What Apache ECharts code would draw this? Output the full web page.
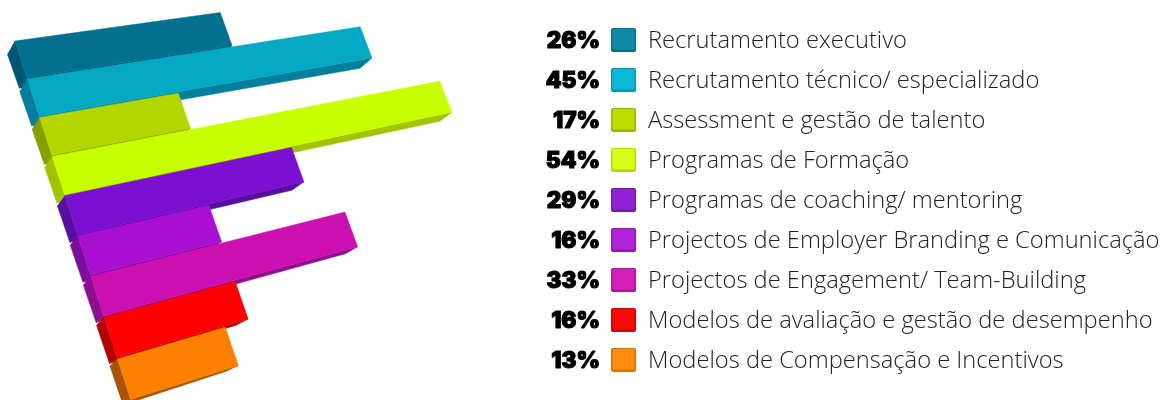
<!DOCTYPE html>
<html><head><meta charset="utf-8">
<style>html,body{margin:0;padding:0;background:#fff}#c{width:1163px;height:400px}</style>
<script src="https://cdn.jsdelivr.net/npm/echarts@6/dist/echarts.min.js"></script>
</head><body><div id="c"></div>
<script>
var categories = ["Recrutamento executivo","Recrutamento técnico/ especializado","Assessment e gestão de talento","Programas de Formação","Programas de coaching/ mentoring","Projectos de Employer Branding e Comunicação","Projectos de Engagement/ Team-Building","Modelos de avaliação e gestão de desempenho","Modelos de Compensação e Incentivos"];
var values = [26,45,17,54,29,16,33,16,13];
var frontColors = ["#04708f","#03a8c4","#b3d600","#c8ff00","#7b0fd2","#a80fd2","#cc10b0","#ff0000","#ff8000"];
var sideColors = ["#03566f","#037f9b","#889f00","#a2c400","#5610a0","#7a0f9c","#8f0f90","#b00000","#a85400"];
var swatchColors = ["#1088a8","#0cb8d4","#bcdc00","#d4ff1a","#9022d6","#b022dc","#d420b8","#f80808","#ff8c10"];
var swatchEdges = ["#0b6f8c","#0a98b0","#9ab400","#b4d800","#7418b0","#9018b4","#ac1896","#cc0606","#d87208"];

// Perspective: the bar plot's rectangle is projected onto this quadrilateral
var quad = [[15,41],[403,-13],[517,279],[131,401]];
function homography(q){
  var x0=q[0][0],y0=q[0][1],x1=q[1][0],y1=q[1][1],x2=q[2][0],y2=q[2][1],x3=q[3][0],y3=q[3][1];
  var dx1=x1-x2,dx2=x3-x2,dy1=y1-y2,dy2=y3-y2,sx=x0-x1+x2-x3,sy=y0-y1+y2-y3;
  var d=dx1*dy2-dx2*dy1, g=(sx*dy2-dx2*sy)/d, h=(dx1*sy-sx*dy1)/d;
  var a=x1-x0+g*x1,b=x3-x0+h*x3,c=x0,e=y1-y0+g*y1,f=y3-y0+h*y3,k=y0;
  return function(s,t){var w=g*s+h*t+1;return [(a*s+b*t+c)/w,(e*s+f*t+k)/w];};
}
var project = homography(quad);
var BAR_FILL = 0.965;

function renderBar(params, api){
  var i = api.value(0), v = api.value(1), cs = params.coordSys;
  var band = api.size([0,1])[1];
  var p0 = api.coord([0,i]), p1 = api.coord([v,i]);
  var s0 = (p0[0]-cs.x)/cs.width, s1 = (p1[0]-cs.x)/cs.width;
  var t0 = (p0[1]-band/2-cs.y)/cs.height, t1 = (p0[1]-band/2+band*BAR_FILL-cs.y)/cs.height;
  var TL=project(s0,t0),TR=project(s1,t0),BR=project(s1,t1),BL=project(s0,t1);
  // depth of the box flattens towards the bottom of the chart
  var d = 1-0.48*i/8;
  var off=function(p,dx,dy){return [p[0]+dx,p[1]+dy*d];};
  var LT=off(TL,-7.5,13.5),LB=off(BL,-7.5,10.5),RB=off(BR,-12,11);
  function poly(pts,color){return {type:'polygon',shape:{points:pts},style:{fill:color,stroke:color,lineWidth:0.5}};}
  return {type:'group',children:[
    poly([BL,BR,RB,LB],sideColors[i]),
    poly([TL,BL,LB,LT],sideColors[i]),
    poly([TL,TR,BR,BL],frontColors[i])
  ]};
}
function renderLegend(params, api){
  var i = api.value(0), c = api.coord([0,i]), y = c[1];
  return {type:'group',children:[
    {type:'text',style:{text:values[i]+'%',x:600,y:y+1.5,align:'right',verticalAlign:'middle',fontFamily:'Inter',fontWeight:900,fontSize:22.5,fill:'#000',stroke:'#000',lineWidth:1}},
    {type:'rect',shape:{x:611,y:y-12,width:25,height:24,r:2},style:{fill:swatchEdges[i]}},
    {type:'rect',shape:{x:612.5,y:y-11,width:22,height:20.5,r:1},style:{fill:swatchColors[i]}},
    {type:'text',style:{text:categories[i],x:648,y:y+1.5,align:'left',verticalAlign:'middle',fontFamily:'Open Sans',fontWeight:300,fontSize:23.7,fill:'#222'}}
  ]};
}
var chart = echarts.init(document.getElementById('c'));
chart.setOption({
  animation:false,
  backgroundColor:'#fff',
  grid:[{left:0,top:0,width:1000,height:360},{left:600,top:20,width:500,height:360}],
  xAxis:[{gridIndex:0,type:'value',min:0,max:54,show:false},{gridIndex:1,type:'value',min:0,max:1,show:false}],
  yAxis:[{gridIndex:0,type:'category',data:categories,inverse:true,show:false},{gridIndex:1,type:'category',data:categories,inverse:true,show:false}],
  series:[
    {type:'custom',xAxisIndex:0,yAxisIndex:0,renderItem:renderBar,clip:false,encode:{x:1,y:0},
     data:values.map(function(v,i){return [i,v];})},
    {type:'custom',xAxisIndex:1,yAxisIndex:1,renderItem:renderLegend,clip:false,encode:{y:0},
     data:values.map(function(v,i){return [i,v];})}
  ]
});
</script></body></html>
